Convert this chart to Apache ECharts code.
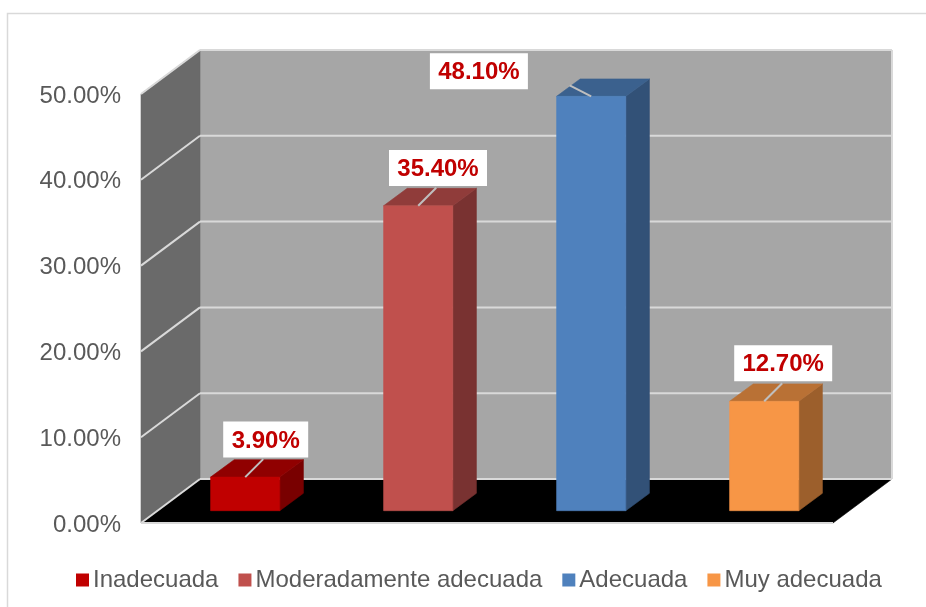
<!DOCTYPE html>
<html>
<head>
<meta charset="utf-8">
<style>html,body{margin:0;padding:0;background:#fff;overflow:hidden}#c{width:926px;height:607px}</style>
<script src="https://cdn.jsdelivr.net/npm/echarts@6/dist/echarts.min.js"></script>
</head>
<body>
<div id="c"></div>
<script>
const categories = ['Inadecuada', 'Moderadamente adecuada', 'Adecuada', 'Muy adecuada'];
const values = [3.9, 35.4, 48.1, 12.7];
const valueLabels = ['3.90%', '35.40%', '48.10%', '12.70%'];
const yTicks = [0, 10, 20, 30, 40, 50];
const colors = ['#c00000', '#c0504d', '#4f81bd', '#f79646'];

// 3D look (pixels)
const WALL = { dx: 59, dy: -44 };
const BAR = { dx: 23.6, dy: -17.4, shiftX: 17.7, shiftY: -12.3, ratio: 0.4, heightScale: 1.004 };
const LABEL_BOX = { h: 36 };
const labelPlace = [
  { cx: 20.5, cy: -37.7, lx: 18, ly: -18 },
  { cx: 19.8, cy: -37.7, lx: 18, ly: -18 },
  { cx: -112.3, cy: -25, lx: -21.5, ly: -11 },
  { cx: 19, cy: -38, lx: 18, ly: -18 }
];

function shade(hex, k) {
  const n = parseInt(hex.slice(1), 16);
  const c = [(n >> 16) & 255, (n >> 8) & 255, n & 255].map(v => Math.round(v * k));
  return 'rgb(' + c.join(',') + ')';
}
function poly(points, fill) {
  return { type: 'polygon', shape: { points }, style: { fill, stroke: fill, lineWidth: 0.6 } };
}
function seg(a, b, stroke, w) {
  return { type: 'line', shape: { x1: a[0], y1: a[1], x2: b[0], y2: b[1] }, style: { stroke, lineWidth: w || 2 } };
}

function renderWalls(params, api) {
  const cs = params.coordSys;
  const l = cs.x, r = cs.x + cs.width;
  const y0 = api.coord([0, yTicks[0]])[1];
  const yT = api.coord([0, yTicks[yTicks.length - 1]])[1];
  const d = WALL;
  const kids = [
    poly([[l + d.dx, yT + d.dy], [r + d.dx, yT + d.dy], [r + d.dx, y0 + d.dy], [l + d.dx, y0 + d.dy]], '#a6a6a6'),
    poly([[l, yT], [l + d.dx, yT + d.dy], [l + d.dx, y0 + d.dy], [l, y0]], '#6a6a6a'),
    poly([[l, y0], [l + d.dx, y0 + d.dy], [r + d.dx, y0 + d.dy], [r, y0]], '#000000')
  ];
  yTicks.forEach(t => {
    const y = api.coord([0, t])[1];
    kids.push(seg([l, y], [l + d.dx, y + d.dy], '#d9d9d9'));
    kids.push(seg([l + d.dx, y + d.dy], [r + d.dx, y + d.dy], '#d9d9d9'));
  });
  kids.push(seg([r + d.dx, yT + d.dy], [r + d.dx, y0 + d.dy], '#d9d9d9'));
  kids.push(seg([l, y0], [r, y0], '#d9d9d9'));
  return { type: 'group', silent: true, children: kids };
}

function renderBar(i) {
  return function (params, api) {
    const w = api.size([1, 0])[0] * BAR.ratio;
    const top = api.coord([api.value(0), api.value(1)]);
    const bot = api.coord([api.value(0), 0]);
    const x0 = top[0] + BAR.shiftX - w / 2, x1 = x0 + w;
    const yb = bot[1] + BAR.shiftY;
    const yt = yb - (bot[1] - top[1]) * BAR.heightScale;
    const dx = BAR.dx, dy = BAR.dy, c = colors[i];
    const mid = (x0 + x1) / 2;
    const p = labelPlace[i];
    const cx = mid + p.cx, cy = yt + p.cy;
    const boxW = valueLabels[i].length === 5 ? 85 : 98;
    return {
      type: 'group',
      children: [
        poly([[x1, yb], [x1 + dx, yb + dy], [x1 + dx, yt + dy], [x1, yt]], shade(c, 0.63)),
        poly([[x0, yt], [x0 + dx, yt + dy], [x1 + dx, yt + dy], [x1, yt]], shade(c, 0.75)),
        poly([[x0, yt], [x1, yt], [x1, yb], [x0, yb]], c),
        seg([mid, yt], [mid + p.lx, yt + p.ly], '#bfbfbf', 2),
        { type: 'rect', shape: { x: cx - boxW / 2, y: cy - LABEL_BOX.h / 2, width: boxW, height: LABEL_BOX.h }, style: { fill: '#ffffff' } },
        { type: 'text', x: cx, y: cy + 1.5, style: { text: valueLabels[i], fill: '#c00000', font: 'bold 24px "Liberation Sans", Arial, sans-serif', align: 'center', verticalAlign: 'middle' } }
      ]
    };
  };
}

const chart = echarts.init(document.getElementById('c'), null, { renderer: 'canvas' });
const barSeries = categories.map((name, i) => ({
  name,
  type: 'custom',
  z: 3,
  clip: false,
  silent: true,
  itemStyle: { color: colors[i] },
  encode: { x: 0, y: 1 },
  data: [[i, values[i]]],
  renderItem: renderBar(i)
}));

chart.setOption({
  animation: false,
  backgroundColor: '#ffffff',
  graphic: [{
    type: 'rect', z: -1, silent: true,
    shape: { x: 7.5, y: 13.5, width: 1000, height: 800 },
    style: { fill: 'none', stroke: '#d9d9d9', lineWidth: 1.5 }
  }],
  grid: { left: 141, top: 94, width: 692, height: 429, containLabel: false },
  xAxis: {
    type: 'category', data: categories,
    axisLine: { show: false }, axisTick: { show: false }, axisLabel: { show: false }, splitLine: { show: false }
  },
  yAxis: {
    type: 'value', min: 0, max: 50, interval: 10,
    axisLine: { show: false }, axisTick: { show: false }, splitLine: { show: false },
    axisLabel: {
      margin: 20, color: '#595959', fontSize: 24, fontFamily: '"Liberation Sans", Arial, sans-serif',
      verticalAlign: 'top', lineHeight: 4,
      formatter: v => v.toFixed(2) + '%'
    }
  },
  legend: {
    data: categories, left: 76, top: 568, padding: 0, selectedMode: false,
    icon: 'rect', itemWidth: 13, itemHeight: 13, itemGap: 20,
    textStyle: { color: '#595959', fontSize: 24, fontFamily: '"Liberation Sans", Arial, sans-serif', padding: [0, 0, 0, -1] }
  },
  series: [{
    name: 'walls', type: 'custom', z: 1, clip: false, silent: true,
    encode: { x: 0, y: 1 }, data: [[0, 0]], renderItem: renderWalls
  }].concat(barSeries)
});
</script>
</body>
</html>
